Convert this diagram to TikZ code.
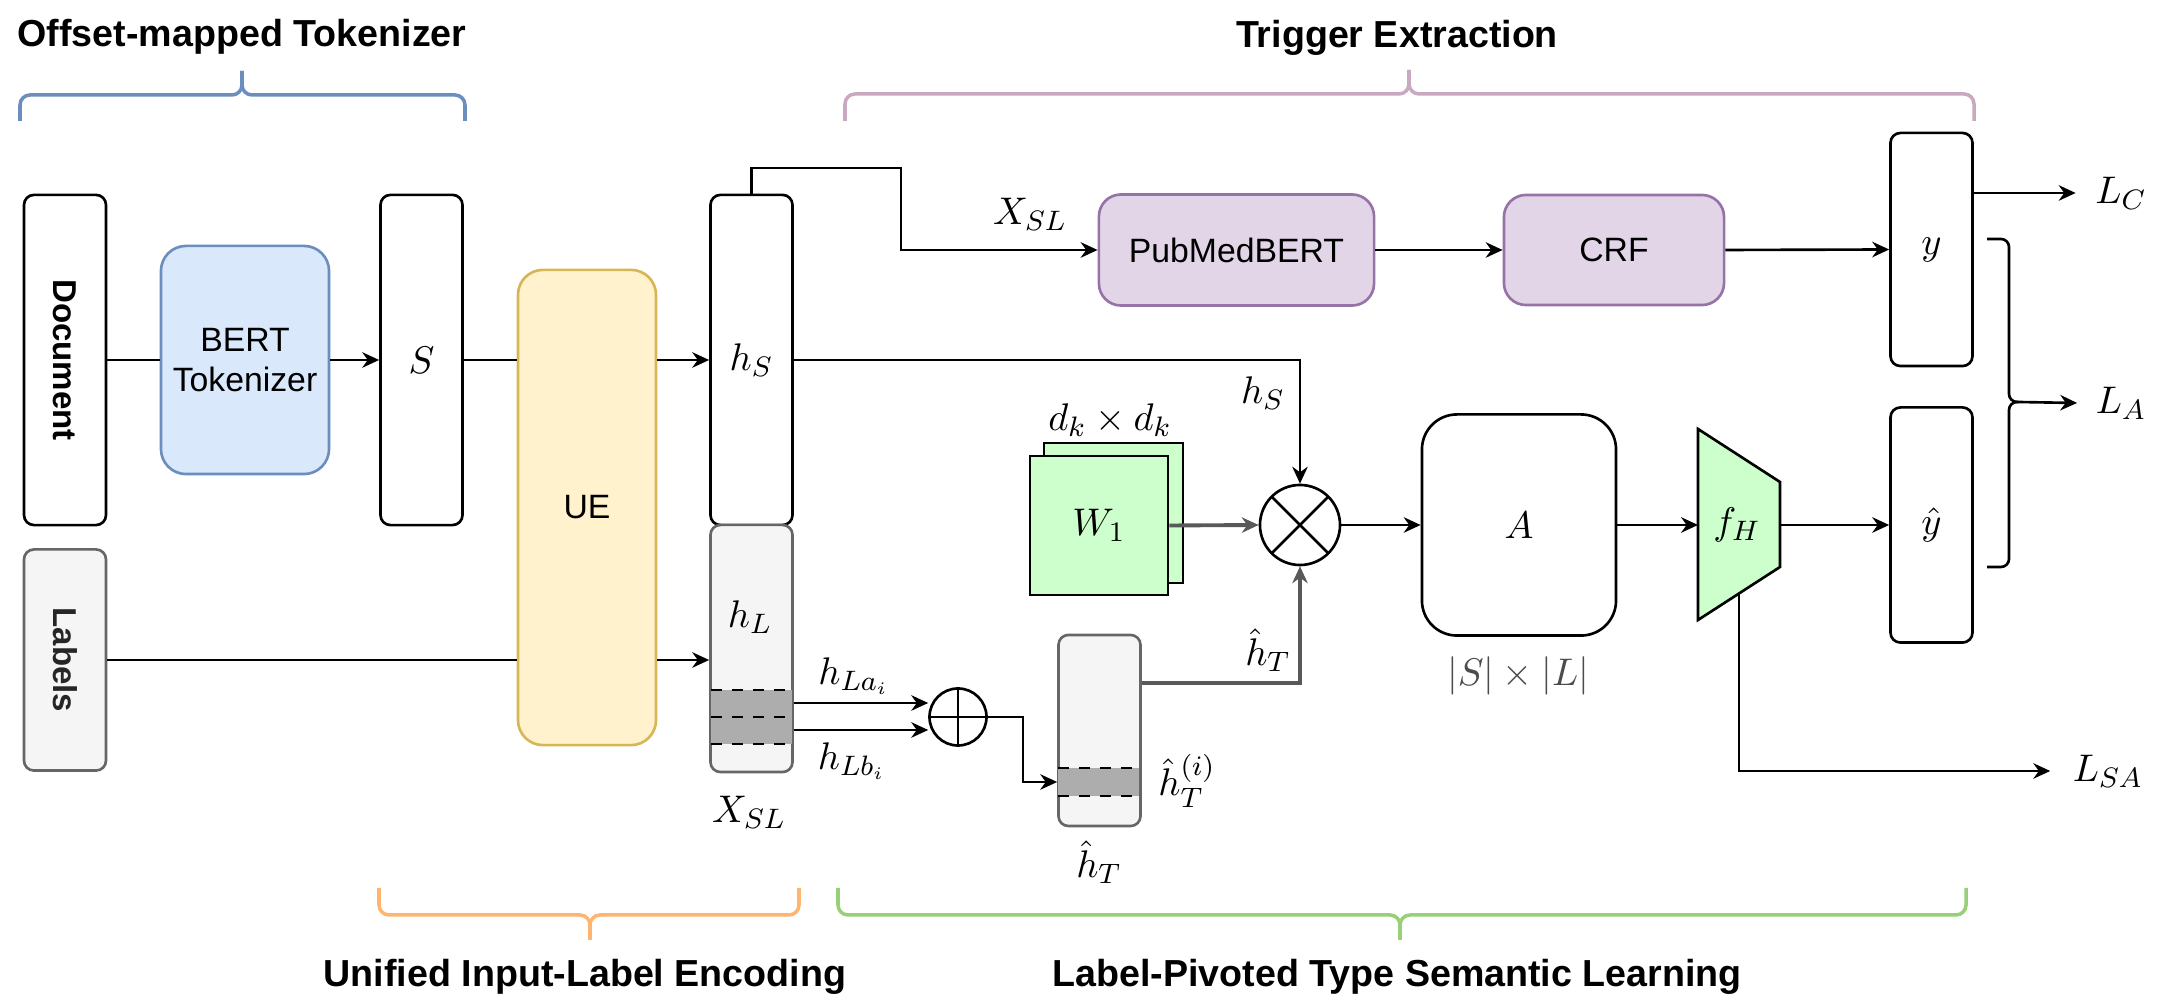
\documentclass[tikz,border=0pt]{standalone}
\usepackage{fontspec}
\setsansfont{Liberation Sans}
\usepackage{amsmath}
\usepackage{graphicx}
\usetikzlibrary{arrows.meta,positioning,calc}
\definecolor{bluefill}{HTML}{DAE8FC}
\definecolor{blueline}{HTML}{6C8EBF}
\definecolor{yellowfill}{HTML}{FFF2CC}
\definecolor{yellowline}{HTML}{D6B656}
\definecolor{purplefill}{HTML}{E1D5E7}
\definecolor{purpleline}{HTML}{9673A6}
\definecolor{greenfill}{HTML}{CCFFCC}
\definecolor{grayfill}{HTML}{F5F5F5}
\definecolor{grayline}{HTML}{666666}
\definecolor{bandfill}{HTML}{ADADAD}
\definecolor{bracepink}{HTML}{C9A9BF}
\definecolor{braceorange}{HTML}{FFB570}
\definecolor{bracegreen}{HTML}{97D077}
\newcommand{\curlybrace}[7]{\draw[#1, line width=1pt, rounded corners=0.1cm] (#2,#5) -- (#2,#6) -- (#4,#6) -- (#4,#7);
					\draw[#1, line width=1pt, rounded corners=0.1cm] (#3,#5) -- (#3,#6) -- (#4,#6) -- (#4,#7);}
\newcommand{\dashband}[3]{\fill[bandfill] (#1,#2) rectangle (#1+81,#3);
					\draw[dashed, line width=0.75pt] (#1,#2) -- ++(81,0);
					\draw[dashed, line width=0.75pt] (#1,#3) -- ++(81,0);}
\tikzset{
	colbox/.style={draw, rounded corners=0.1cm, line width=0.75pt, minimum width=0.82cm, inner sep=0pt},
	graybox/.style={colbox, fill=grayfill, draw=grayline},
	procbox/.style={draw, rounded corners=0.22cm, line width=0.75pt, inner sep=0pt, align=center, font=\sffamily\fontsize{9.6}{11.5}\selectfont},
	sectitle/.style={font=\sffamily\bfseries\fontsize{10.7}{12}\selectfont, inner sep=0pt},
	mathlbl/.style={font=\fontsize{11}{13}\selectfont, inner sep=0pt},
	conn/.style={line width=0.75pt},
	arr/.style={conn, -{Stealth[length=4.8pt,width=4.4pt]}},
	thickarr/.style={arr, line width=1.1pt, draw=black!65},
	opcircle/.style={draw, circle, line width=0.75pt, inner sep=0pt}
}

\begin{document}
\begin{tikzpicture}[x=0.01cm, y=-0.01cm]
				\useasboundingbox (0,0) rectangle (2159,998);

					\node[sectitle] (tokt) at (242,37) {Offset-mapped Tokenizer};
					\node[sectitle] (trigt) at (1397,38) {Trigger Extraction};
					\node[sectitle] (uilt) at (585,977) {Unified Input-Label Encoding};
					\node[sectitle] (lptt) at (1397,977) {Label-Pivoted Type Semantic Learning};

					\curlybrace{blueline}{20}{465}{242}{121}{95}{71}
					\curlybrace{bracepink}{845}{1974}{1409}{121}{94}{70}
					\curlybrace{braceorange}{379}{799}{590}{888}{915}{940}
					\curlybrace{bracegreen}{838}{1966}{1400}{888}{915}{940}

					\node[colbox, minimum height=3.3cm, font=\sffamily\bfseries\fontsize{9.4}{11}\selectfont] (doc) at (65,360) {\rotatebox{-90}{Document}};
					\node[graybox, minimum height=2.21cm, font=\sffamily\bfseries\fontsize{9.4}{11}\selectfont, text=black!85] (labels) at (65,660) {\rotatebox{-90}{Labels}};
					\node[procbox, fill=bluefill, draw=blueline, rounded corners=0.25cm, minimum width=1.68cm, minimum height=2.28cm] (bert) at (245,360) {BERT\\Tokenizer};
					\node[colbox, minimum height=3.3cm, font=\fontsize{11}{13}\selectfont] (S) at (421.5,360) {$S$};
					\node[procbox, fill=yellowfill, draw=yellowline, rounded corners=0.25cm, minimum width=1.38cm, minimum height=4.75cm] (UE) at (587,507.5) {UE};
					\node[colbox, minimum height=3.3cm, font=\fontsize{11}{13}\selectfont] (hS) at (751.5,360) {$h_S$};
					\node[graybox, minimum height=2.47cm] (hL) at (751.5,648.5) {};
					\dashband{711}{690}{744}
					\draw[dashed, line width=0.75pt] (711,717) -- ++(81,0);
					\node[mathlbl] (hLtext) at (750,617) {$h_L$};
					\node[mathlbl] (XSLbot) at (749,812) {$X_{SL}$};

					\node[procbox, fill=purplefill, draw=purpleline, minimum width=2.75cm, minimum height=1.11cm] (pub) at (1236.5,250) {PubMedBERT};
					\node[procbox, fill=purplefill, draw=purpleline, minimum width=2.2cm, minimum height=1.1cm] (crf) at (1614,250) {CRF};
					\node[colbox, minimum height=2.33cm, font=\fontsize{11}{13}\selectfont] (ybox) at (1931.5,249.5) {$y$};
					\node[colbox, minimum height=2.35cm, font=\fontsize{11}{13}\selectfont] (yhat) at (1931.5,525) {$\hat{y}$};
					\node[mathlbl] (XSLtop) at (1030,214) {$X_{SL}$};

					\node[mathlbl] (dkdk) at (1110,420) {$d_k \times d_k$};
					\draw[fill=greenfill, line width=0.75pt] (1044,443) rectangle (1183,583);
					\node[draw, fill=greenfill, line width=0.75pt, minimum width=1.38cm, minimum height=1.39cm, font=\fontsize{11}{13}\selectfont] (W1) at (1099,525.5) {$W_1$};
					\node[opcircle, minimum size=0.8cm, path picture={
						\draw[line width=0.75pt] (path picture bounding box.north west) -- (path picture bounding box.south east);
						\draw[line width=0.75pt] (path picture bounding box.south west) -- (path picture bounding box.north east);}] (otimes) at (1300,525) {};
					\node[mathlbl] (hSlbl) at (1263,393) {$h_S$};
					\node[draw, rounded corners=0.35cm, line width=0.75pt, minimum width=1.94cm, minimum height=2.21cm, font=\fontsize{11}{13}\selectfont] (A) at (1519,525) {$A$};
					\node[mathlbl, text=black!70] (SxL) at (1518,676) {$|S| \times |L|$};

					\draw[fill=greenfill, line width=0.75pt] (1698,429) -- (1780,482) -- (1780,567) -- (1698,620) -- cycle;
					\node[mathlbl] (fH) at (1737,525) {$f_H$};
					\coordinate (fHin) at (1698,525);
					\coordinate (fHout) at (1780,525);
					\coordinate (fHbot) at (1739,594);

					\node[opcircle, minimum size=0.57cm, path picture={
						\draw[line width=0.75pt] (path picture bounding box.north) -- (path picture bounding box.south);
						\draw[line width=0.75pt] (path picture bounding box.west) -- (path picture bounding box.east);}] (oplus) at (958,717) {};
					\node[mathlbl] (hLa) at (854,676) {$h_{La_i}$};
					\node[mathlbl] (hLb) at (852,761) {$h_{Lb_i}$};
					\node[graybox, minimum height=1.91cm] (hT) at (1099.5,730.5) {};
					\dashband{1058}{768}{796}
					\node[mathlbl] (hTi) at (1187,781) {$\hat{h}_T^{(i)}$};
					\node[mathlbl] (hTbot) at (1099,862) {$\hat{h}_T$};
					\node[mathlbl] (hTlbl) at (1268,650) {$\hat{h}_T$};

					\node[mathlbl] (LC) at (2121,193) {$L_C$};
					\node[mathlbl] (LA) at (2121,403) {$L_A$};
					\node[mathlbl] (LSA) at (2108,771) {$L_{SA}$};

					\coordinate (xslup) at (901,168);
					\coordinate (rowa) at (0,703);
					\coordinate (rowb) at (0,730);
					\coordinate (rowc) at (0,683);
					\coordinate (bandT) at (0,782);
					\coordinate (bracetip) at (2018,402);

					\draw[conn] (doc.east) -- (doc.east -| bert.west);
					\draw[arr] (bert.east) -- (S.west);
					\draw[conn] (S.east) -- (S.east -| UE.west);
					\draw[arr] (UE.east |- hS) -- (hS.west);
					\draw[conn] (labels.east) -- (labels.east -| UE.west);
					\draw[arr] (UE.east |- labels.east) -- (hL.west |- labels.east);
					\draw[arr] (hS.north) |- (xslup) |- (pub.west);
					\draw[arr] (pub.east) -- (crf.west);
					\draw[arr] (crf.east) -- (ybox.west);
					\draw[arr] (ybox.east |- LC) -- ([xshift=-0.19cm]LC.west);
					\draw[conn, rounded corners=0.08cm] (1987,239) -- (2009,239) -- (2009,402) -- (bracetip);
					\draw[conn, rounded corners=0.08cm] (1987,567) -- (2009,567) -- (2009,402) -- (bracetip);
					\draw[arr] (bracetip) -- ([xshift=-0.18cm]LA.west);
					\draw[arr] (hS.east) -| (otimes.north);
					\draw[thickarr] (W1.east) -- (otimes.west);
					\draw[arr] (otimes.east) -- (A.west);
					\draw[arr] (A.east) -- (fHin);
					\draw[arr] (fHout) -- (yhat.west);
					\draw[arr] (fHbot) |- ([xshift=-0.22cm]LSA.west);
					\draw[arr] (hL.east |- rowa) -- (oplus.west |- rowa);
					\draw[arr] (hL.east |- rowb) -- (oplus.west |- rowb);
					\draw[arr] (oplus.east) -- ++(35,0) |- (hT.west |- bandT);
					\draw[thickarr] (hT.east |- rowc) -| (otimes.south);

				\end{tikzpicture}
\end{document}
